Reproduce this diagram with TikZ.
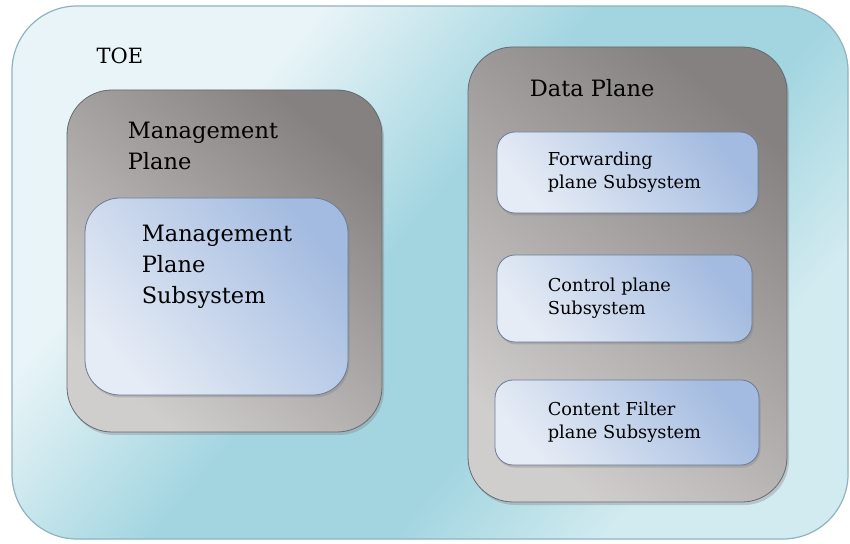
\documentclass[tikz,border=0pt]{standalone}
\usepackage{fontspec}
\setmainfont{DejaVu Serif}
\usetikzlibrary{positioning, shadows}

\definecolor{toelight}{HTML}{E8F4F7}
\definecolor{toedark}{HTML}{A2D5E0}
\definecolor{toeend}{HTML}{D2EBF0}
\definecolor{toeline}{HTML}{8DB4BF}
\definecolor{planelight}{HTML}{D0CECD}
\definecolor{planedark}{HTML}{858181}
\definecolor{planeline}{HTML}{646A70}
\definecolor{sublight}{HTML}{E6ECF5}
\definecolor{subdark}{HTML}{A3BBE0}
\definecolor{subline}{HTML}{6A7B95}

\pgfdeclarehorizontalshading{toeshade}{100bp}{color(0bp)=(toelight); color(32bp)=(toelight); color(47bp)=(toedark); color(60bp)=(toedark); color(72bp)=(toeend); color(100bp)=(toeend)}

\begin{document}
\begin{tikzpicture}[x=1pt, y=1pt,
            % Styles
            toebox/.style={rectangle, draw=toeline, line width=1.2pt, rounded corners=65pt, shading=toeshade, shading angle=-40, inner sep=0},
            planebox/.style={rectangle, draw=planeline, line width=0.8pt, rounded corners=45pt, top color=planedark, bottom color=planelight, shading angle=-40, inner sep=0, drop shadow={opacity=0.35, shadow xshift=2pt, shadow yshift=-3pt}},
            subbox/.style={rectangle, draw=subline, line width=0.8pt, rounded corners=18pt, top color=subdark, bottom color=sublight, shading angle=-50, inner sep=0, drop shadow={opacity=0.35, shadow xshift=1.5pt, shadow yshift=-2.5pt}},
            bigtext/.style={inner sep=0, align=left, font=\fontsize{22.5}{31}\selectfont},
            smalltext/.style={inner sep=0, align=left, font=\fontsize{17.8}{23}\selectfont},
            toetext/.style={inner sep=0, font=\fontsize{21}{25}\selectfont}
        ]

        \fill[white] (0,0) rectangle (850,543);
        \useasboundingbox (0,0) rectangle (850,543);

        % TOE
        \node [toebox, minimum width=836pt, minimum height=533pt] (toe) at (430,270.5) {};
        \node [toetext, below right=42pt and 85pt of toe.north west] (toetitle) {TOE};

        % Management plane
        \node [planebox, minimum width=315pt, minimum height=342pt] (mplane) at (224.5,282) {};
        \node [bigtext, below right=32pt and 61pt of mplane.north west] (mplanetitle) {Management\\Plane};

        \node [subbox, rounded corners=35pt, minimum width=263pt, minimum height=197pt] (msub) at (216.5,246.5) {};
        \node [bigtext, below right=27pt and 57pt of msub.north west] (msubtext) {Management\\Plane\\Subsystem};

        % Data plane
        \node [planebox, minimum width=319pt, minimum height=455pt] (dplane) at (627.5,268.5) {};
        \node [bigtext, below right=33pt and 62pt of dplane.north west] (dplanetitle) {Data Plane};

        \node [subbox, minimum width=261pt, minimum height=81pt] (fwd) at (627.5,370.5) {};
        \node [smalltext, right=51pt of fwd.west] (fwdtext) {Forwarding\\plane Subsystem};

        \node [subbox, minimum width=255pt, minimum height=87pt] (ctrl) at (624.5,244.5) {};
        \node [smalltext, right=51pt of ctrl.west] (ctrltext) {Control plane\\Subsystem};

        \node [subbox, minimum width=264pt, minimum height=85pt] (cfil) at (627,120.5) {};
        \node [smalltext, right=53pt of cfil.west] (cfiltext) {Content Filter\\plane Subsystem};

    \end{tikzpicture}
\end{document}
